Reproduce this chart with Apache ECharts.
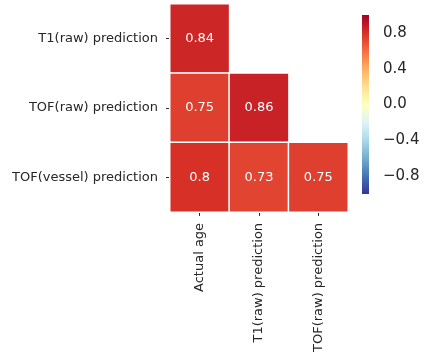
<!DOCTYPE html>
<html>
<head>
<meta charset="utf-8">
<script src="https://cdn.jsdelivr.net/npm/echarts@6/dist/echarts.min.js"></script>
<style>
  html, body { margin: 0; padding: 0; background: #fff; }
  #chart { width: 426px; height: 355px; }
</style>
</head>
<body>
<div id="chart"></div>
<script>
// Correlation heatmap (lower triangle) with a diverging colour bar
const xCategories = ['Actual age', 'T1(raw) prediction', 'TOF(raw) prediction'];
const yCategories = ['T1(raw) prediction', 'TOF(raw) prediction', 'TOF(vessel) prediction'];
// [column, row, r]
const cells = [
  [0, 0, 0.84],
  [0, 1, 0.75], [1, 1, 0.86],
  [0, 2, 0.8],  [1, 2, 0.73], [2, 2, 0.75]
];
const colorMin = -1;
const colorMax = 1;
const colorbarTicks = [-0.8, -0.4, 0, 0.4, 0.8];

// RdYlBu reversed (low -> high)
const palette = ['#313695', '#4575b4', '#74add1', '#abd9e9', '#e0f3f8', '#ffffbf',
                 '#fee090', '#fdae61', '#f46d43', '#d73027', '#a50026'];

const font = 'DejaVu Sans';
const textColor = '#262626';

const chart = echarts.init(document.getElementById('chart'));
chart.setOption({
  backgroundColor: '#fff',
  animation: false,
  textStyle: { fontFamily: font },
  grid: [
    { left: 170, top: 4, width: 178, height: 208 },
    { left: 362, top: 15, width: 7, height: 179 }
  ],
  xAxis: [
    {
      type: 'category', gridIndex: 0, data: xCategories,
      axisLine: { show: false },
      axisTick: { show: true, alignWithLabel: true, length: 4, lineStyle: { color: textColor } },
      axisLabel: { rotate: 90, fontSize: 13, color: textColor, fontFamily: font, margin: 11 },
      splitLine: { show: false }
    },
    {
      type: 'value', gridIndex: 1, min: 0, max: 1, show: false
    }
  ],
  yAxis: [
    {
      type: 'category', gridIndex: 0, data: yCategories, inverse: true,
      axisLine: { show: false },
      axisTick: { show: true, alignWithLabel: true, length: 4, lineStyle: { color: textColor } },
      axisLabel: { fontSize: 13, color: textColor, fontFamily: font, margin: 12 },
      splitLine: { show: false }
    },
    {
      type: 'value', gridIndex: 1, min: colorMin, max: colorMax, position: 'right',
      axisLine: { show: false },
      axisTick: { show: true, length: 5, customValues: colorbarTicks, lineStyle: { color: textColor } },
      axisLabel: {
        fontSize: 15, color: textColor, fontFamily: font, margin: 14,
        customValues: colorbarTicks,
        formatter: v => (v < 0 ? '\u2212' : '') + Math.abs(v).toFixed(1)
      },
      splitLine: { show: false }
    }
  ],
  visualMap: {
    show: false, seriesIndex: 0, dimension: 2,
    min: colorMin, max: colorMax,
    inRange: { color: palette }
  },
  series: [
    {
      type: 'heatmap', xAxisIndex: 0, yAxisIndex: 0,
      data: cells,
      itemStyle: { borderColor: '#fff', borderWidth: 1.5 },
      label: {
        show: true, color: '#fff', fontSize: 13, fontFamily: font,
        formatter: p => String(p.value[2])
      }
    },
    {
      type: 'custom', xAxisIndex: 1, yAxisIndex: 1,
      data: [[0, colorMax, 1, colorMin]],
      renderItem: (params, api) => {
        const p1 = api.coord([api.value(0), api.value(1)]);
        const p2 = api.coord([api.value(2), api.value(3)]);
        const stops = palette.slice().reverse().map((c, i) => ({ offset: i / (palette.length - 1), color: c }));
        return {
          type: 'rect',
          shape: { x: p1[0], y: p1[1], width: p2[0] - p1[0], height: p2[1] - p1[1] },
          style: { fill: new echarts.graphic.LinearGradient(0, 0, 0, 1, stops) }
        };
      }
    }
  ]
});
</script>
</body>
</html>
